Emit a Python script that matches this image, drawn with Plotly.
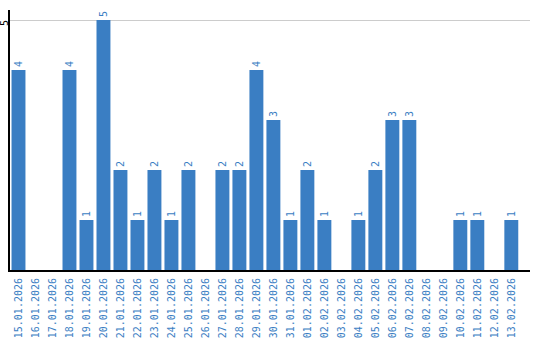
import plotly.graph_objects as go

dates = ["15.01.2026","16.01.2026","17.01.2026","18.01.2026","19.01.2026","20.01.2026",
         "21.01.2026","22.01.2026","23.01.2026","24.01.2026","25.01.2026","26.01.2026",
         "27.01.2026","28.01.2026","29.01.2026","30.01.2026","31.01.2026","01.02.2026",
         "02.02.2026","03.02.2026","04.02.2026","05.02.2026","06.02.2026","07.02.2026",
         "08.02.2026","09.02.2026","10.02.2026","11.02.2026","12.02.2026","13.02.2026"]
counts = [4,0,0,4,1,5,2,1,2,1,2,0,2,2,4,3,1,2,1,0,1,2,3,3,0,0,1,1,0,1]
y_ticks = [5]

blue = "#3a7ec3"
labels = [str(v) if v > 0 else "" for v in counts]

fig = go.Figure(go.Bar(
    x=list(range(len(dates))), y=counts, marker_color=blue, marker_line_width=0,
    width=0.82, text=labels, textposition="outside", textangle=-90,
    textfont=dict(family="DejaVu Sans Mono", size=10, color=blue),
    cliponaxis=False,
))
fig.update_layout(
    width=540, height=340, margin=dict(l=10, r=10, t=10, b=70),
    plot_bgcolor="white", paper_bgcolor="white", showlegend=False,
    uniformtext=dict(minsize=10, mode="show"),
)
for v in y_ticks:
    fig.add_annotation(x=0, xref="paper", y=v, yref="y", text=str(v), showarrow=False,
                       textangle=-90, xanchor="center", yanchor="middle", yshift=-3,
                       xshift=-6,
                       font=dict(family="DejaVu Sans Mono", size=10, color="black"))
fig.update_xaxes(
    range=[-0.5, 30.1], tickmode="array", tickvals=list(range(len(dates))), ticktext=dates,
    tickangle=-90, tickfont=dict(family="DejaVu Sans Mono", size=10, color=blue),
    showline=True, linecolor="black", linewidth=2, showgrid=False, ticks="", zeroline=False,
    automargin=False, ticklabelstandoff=2,
)
fig.update_yaxes(
    range=[0, 5.2], tickvals=y_ticks, showticklabels=False,
    showline=True, linecolor="black", linewidth=2, showgrid=True, gridcolor="#cccccc",
    zeroline=False, ticks="", automargin=False,
)
fig.write_html("out.html")
